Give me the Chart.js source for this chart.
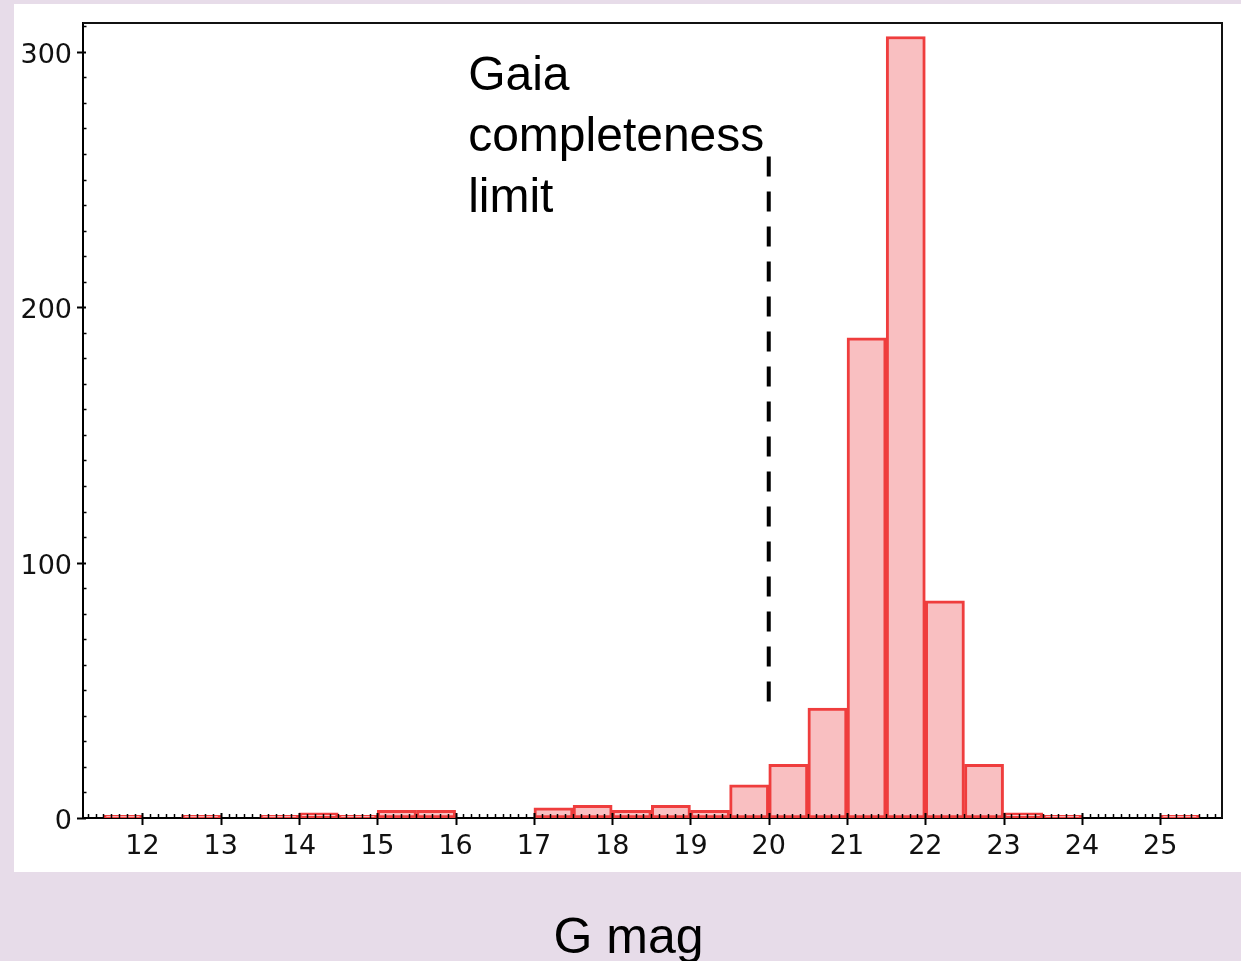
<!DOCTYPE html>
<html>
<head>
<meta charset="utf-8">
<script src="https://cdn.jsdelivr.net/npm/chart.js@4/dist/chart.umd.min.js"></script>
<style>
  html, body { margin: 0; padding: 0; background: #e7dce9; width: 1241px; height: 961px; overflow: hidden; }
  #panel { position: absolute; left: 14px; top: 4px; width: 1227px; height: 868px; background: #ffffff; }
  #c { position: absolute; left: 0; top: 0; }
</style>
</head>
<body>
<div id="panel"></div>
<canvas id="c" width="1241" height="961"></canvas>
<script>
// ---- data ----
const binCenters = [11.75, 12.25, 12.75, 13.25, 13.75, 14.25, 14.75, 15.25, 15.75, 16.25,
                    16.75, 17.25, 17.75, 18.25, 18.75, 19.25, 19.75, 20.25, 20.75, 21.25,
                    21.75, 22.25, 22.75, 23.25, 23.75, 24.25, 24.75, 25.25];
const counts     = [1, 0, 1, 0, 1, 2, 1, 3, 3, 0,
                    0, 4, 5, 3, 5, 3, 13, 21, 43, 188,
                    306, 85, 21, 2, 1, 0, 0, 1];
const xTickLabels = [12, 13, 14, 15, 16, 17, 18, 19, 20, 21, 22, 23, 24, 25];
const yTickLabels = [0, 100, 200, 300];
const limitMag = [20, 20];
const limitCounts = [259, 45.5];
const annotationLines = ['Gaia', 'completeness', 'limit'];
const annotationAnchor = [16.16, 285.2];
const xAxisTitle = 'G mag';

const histData = binCenters.map((x, i) => ({ x: x, y: counts[i] }));
const limitData = limitMag.map((x, i) => ({ x: x, y: limitCounts[i] }));

// ---- plugin: frame, inward/outward ticks, annotation, axis title ----
const decorPlugin = {
  id: 'decor',
  afterDatasetsDraw(chart) {
    const ctx = chart.ctx;
    const xs = chart.scales.x, ys = chart.scales.y;
    const a = chart.chartArea;
    ctx.save();
    // frame top/right
    ctx.strokeStyle = '#111';
    ctx.lineWidth = 2;
    ctx.beginPath();
    ctx.moveTo(a.left, a.top); ctx.lineTo(a.right, a.top); ctx.lineTo(a.right, a.bottom);
    ctx.stroke();
    // x ticks
    ctx.strokeStyle = '#000';
    for (let i = Math.ceil(xs.min * 10); i <= Math.floor(xs.max * 10); i++) {
      const px = Math.round(xs.getPixelForValue(i / 10)) + 0.5;
      ctx.beginPath();
      if (i % 10 === 0) {
        ctx.lineWidth = 2;
        ctx.moveTo(px, a.bottom - 5); ctx.lineTo(px, a.bottom + 7);
      } else {
        ctx.lineWidth = 1.5;
        ctx.moveTo(px, a.bottom - 4); ctx.lineTo(px, a.bottom);
      }
      ctx.stroke();
    }
    // y ticks
    for (let v = 0; v <= ys.max; v += 10) {
      const py = Math.round(ys.getPixelForValue(v)) + 0.5;
      ctx.beginPath();
      if (v % 100 === 0) {
        ctx.lineWidth = 2;
        ctx.moveTo(a.left - 6, py); ctx.lineTo(a.left + 3, py);
      } else {
        ctx.lineWidth = 1.5;
        ctx.moveTo(a.left, py); ctx.lineTo(a.left + 3.5, py);
      }
      ctx.stroke();
    }
    // annotation
    ctx.fillStyle = '#000';
    ctx.font = '48px "Liberation Sans", Arial, Helvetica, sans-serif';
    ctx.textAlign = 'left';
    ctx.textBaseline = 'alphabetic';
    const tx = xs.getPixelForValue(annotationAnchor[0]);
    const ty = ys.getPixelForValue(annotationAnchor[1]);
    annotationLines.forEach((t, i) => ctx.fillText(t, tx, ty + i * 61));
    // x axis title (below the white panel)
    ctx.font = '50px "Liberation Sans", Arial, Helvetica, sans-serif';
    ctx.textAlign = 'center';
    ctx.fillText(xAxisTitle, 628.5, xs.bottom - 8.3);
    ctx.restore();
  }
};

const tickFont = { family: '"DejaVu Sans", sans-serif', size: 27 };

new Chart(document.getElementById('c'), {
  type: 'bar',
  data: {
    datasets: [
      {
        type: 'bar',
        data: histData,
        backgroundColor: '#f9bfc1',
        borderColor: '#ef3d3d',
        borderWidth: 3,
        borderSkipped: false,
        barPercentage: 1.0,
        categoryPercentage: 1.0,
        order: 2
      },
      {
        type: 'line',
        data: limitData,
        borderColor: '#000',
        borderWidth: 4,
        borderDash: [20, 15],
        borderCapStyle: 'butt',
        pointRadius: 0,
        fill: false,
        order: 1
      }
    ]
  },
  options: {
    responsive: false,
    animation: false,
    devicePixelRatio: 1,
    layout: { padding: { left: 0, right: 19, top: 23, bottom: 0 } },
    plugins: {
      legend: { display: false },
      tooltip: { enabled: false },
      title: { display: false }
    },
    scales: {
      x: {
        type: 'linear',
        min: 11.24,
        max: 25.79,
        offset: false,
        grid: { display: false, drawTicks: false },
        border: { display: true, color: '#000', width: 2 },
        afterBuildTicks: s => { s.ticks = xTickLabels.map(v => ({ value: v })); },
        afterFit: s => { s.height = 143; s.paddingLeft = 0; s.paddingRight = 0; },
        ticks: {
          autoSkip: false,
          maxRotation: 0,
          padding: 13,
          color: '#111',
          font: tickFont,
          callback: v => String(v)
        }
      },
      y: {
        type: 'linear',
        min: 0,
        max: 311.3,
        grid: { display: false, drawTicks: false },
        border: { display: true, color: '#000', width: 2 },
        afterBuildTicks: s => { s.ticks = yTickLabels.map(v => ({ value: v })); },
        afterFit: s => { s.width = 83; s.paddingTop = 0; s.paddingBottom = 0; },
        ticks: {
          padding: 11,
          labelOffset: 4,
          color: '#111',
          font: tickFont,
          callback: v => String(v)
        }
      }
    }
  },
  plugins: [decorPlugin]
});
</script>
</body>
</html>
